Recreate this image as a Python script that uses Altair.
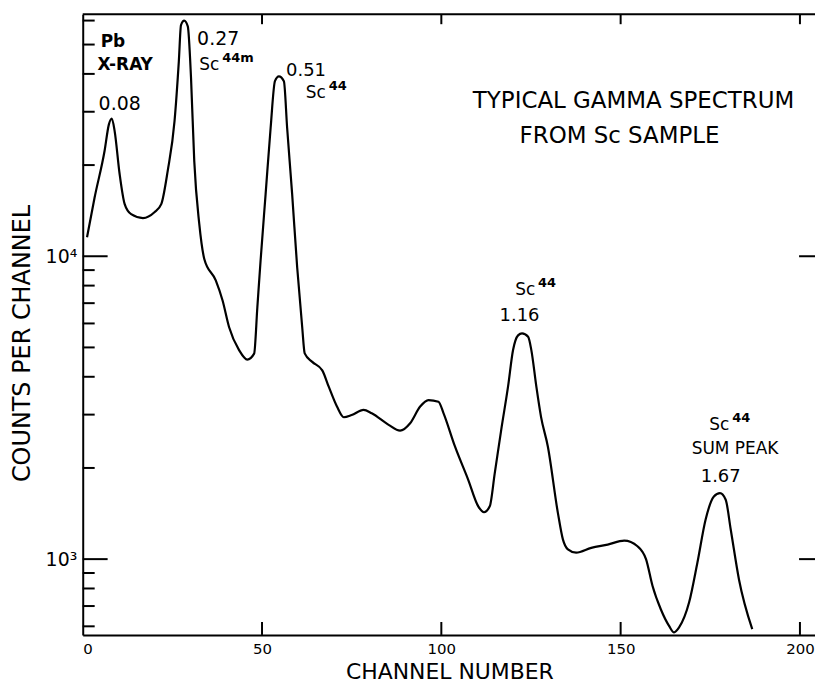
import altair as alt
import pandas as pd

# ---- spectrum trace (channel number, counts per channel) ----
channel = [1.2, 3.3, 6.1, 7.3, 8.1, 8.9, 10.3, 11.7, 13.5, 16.8, 20.0, 21.9, 23.7, 25.6,
           26.8, 27.4, 28.3, 29.3, 30.2, 31.1, 32.5, 33.9, 37.1, 39.0, 40.8, 43.6, 45.9,
           47.8, 48.7, 49.6, 51.0, 52.4, 53.6, 54.7, 56.1, 57.0, 58.4, 59.8, 61.2, 61.9,
           64.0, 66.8, 68.6, 70.9, 72.8, 75.0, 78.3, 80.6, 85.3, 88.5, 91.3, 94.1, 96.4,
           99.2, 100.6, 103.8, 107.5, 110.3, 111.9, 113.5, 114.9, 116.7, 118.6, 120.0,
           121.4, 122.5, 124.2, 125.1, 126.5, 127.8, 129.7, 132.5, 133.9, 135.3, 137.6,
           141.8, 146.4, 151.0, 154.7, 157.1, 158.9, 161.2, 163.5, 164.9, 166.3, 169.1,
           171.4, 173.7, 176.0, 177.7, 179.3, 180.7, 183.0, 186.7]
counts = [11550, 15600, 22300, 27260, 28500, 25900, 18650, 14860, 13770, 13370, 13970, 14860,
          19140, 27930, 44000, 58000, 60000, 57400, 38800, 20650, 12780, 9800, 8320, 7140,
          5840, 4900, 4560, 4770, 6800, 9680, 16030, 26560, 37850, 39270, 37850, 26560,
          16030, 9200, 5840, 4780, 4480, 4200, 3710, 3190, 2940, 2990, 3110, 3030, 2775,
          2655, 2810, 3190, 3350, 3310, 3035, 2355, 1828, 1494, 1428, 1494, 1923, 2673,
          3710, 4900, 5480, 5560, 5420, 4900, 3710, 2950, 2355, 1422, 1162, 1077, 1050,
          1089, 1117, 1151, 1103, 998, 815, 683, 602, 573, 595, 720, 973, 1352, 1610, 1652,
          1571, 1253, 857, 587]

# ---- axis ticks ----
x_ticks = [0, 50, 100, 150, 200]
x_inner_ticks = [50, 100, 150, 200]
y_major = [1000, 10000]
y_minor = [600, 700, 800, 900, 2000, 3000, 4000, 5000, 6000, 7000, 8000, 9000,
           20000, 30000, 40000, 50000, 60000]

# ---- annotations ----
# energies (left-aligned next to peaks)
ann_left_text = ["0.27", "0.51"]
ann_left_x = [31.9, 56.7]
ann_left_y = [52100, 40830]
ann_left_size = [19, 18]

# Pb X-ray label (bold)
ann_bold_text = ["Pb", "X-RAY"]
ann_bold_x = [5.0, 4.1]
ann_bold_y = [50800, 42750]

# "Sc" isotope labels with superscript mass numbers
sc_base = ["Sc", "Sc", "Sc", "Sc"]
sc_sup = ["44m", "44", "44", "44"]
sc_x = [32.5, 62.2, 120.6, 174.7]
sc_y = [42750, 34670, 7710, 2773]

# centred texts
ann_center_text = ["0.08", "TYPICAL  GAMMA  SPECTRUM", "FROM  Sc  SAMPLE", "1.16",
                   "SUM PEAK", "1.67"]
ann_center_x = [10.3, 153.6, 149.7, 121.8, 181.9, 177.9]
ann_center_y = [31900, 32500, 24950, 6340, 2311, 1862]
ann_center_size = [19, 23, 23, 18, 17, 18]

W, H = 735, 623
FONT = "DejaVu Sans"
XDOM = [0, 204.2]
YDOM = [562, 62960]

xs = alt.Scale(domain=XDOM, nice=False, zero=False)
ys = alt.Scale(type="log", domain=YDOM, nice=False)

xaxis = alt.Axis(values=x_ticks, ticks=False, tickSize=0, grid=False,
                 domainColor="black", domainWidth=2, labelFont=FONT, labelFontSize=15,
                 labelColor="black", labelPadding=7,
                 title="CHANNEL  NUMBER", titleFont=FONT, titleFontSize=22,
                 titleFontWeight="normal", titleColor="black",
                 titleX=368, titleY=37, titleBaseline="middle", titleAlign="center")
yaxis = alt.Axis(values=y_major, ticks=False, tickSize=0, grid=False,
                 domainColor="black", domainWidth=2, labelFont=FONT, labelFontSize=19,
                 labelColor="black", labelPadding=6,
                 labelExpr="datum.value >= 5000 ? '10\u2074' : '10\u00b3'",
                 title="COUNTS PER CHANNEL", titleFont=FONT, titleFontSize=24,
                 titleFontWeight="normal", titleColor="black", titleAngle=270,
                 titleX=-60, titleY=330, titleBaseline="middle", titleAlign="center")


def X(field):
    return alt.X(field, scale=xs, axis=xaxis)


def Y(field):
    return alt.Y(field, scale=ys, axis=yaxis)


df = pd.DataFrame({"ch": channel, "cnt": counts})

line = alt.Chart(df).mark_line(color="black", strokeWidth=2.2, interpolate="monotone").encode(
    x=X("ch:Q"), y=Y("cnt:Q"))

ymin_df = pd.DataFrame({"v": y_minor})
ymaj_df = pd.DataFrame({"v": y_major})
xt_df = pd.DataFrame({"v": x_inner_ticks})

left_minor = alt.Chart(ymin_df).mark_rule(color="black", strokeWidth=2).encode(
    y=Y("v:Q"), x=alt.value(0), x2=alt.value(12))
left_major = alt.Chart(ymaj_df).mark_rule(color="black", strokeWidth=2).encode(
    y=Y("v:Q"), x=alt.value(0), x2=alt.value(25))
right_major = alt.Chart(ymaj_df).mark_rule(color="black", strokeWidth=2).encode(
    y=Y("v:Q"), x=alt.value(W - 16), x2=alt.value(W))
bottom_ticks = alt.Chart(xt_df).mark_rule(color="black", strokeWidth=2).encode(
    x=X("v:Q"), y=alt.value(H), y2=alt.value(H - 13))
top_ticks = alt.Chart(xt_df).mark_rule(color="black", strokeWidth=2).encode(
    x=X("v:Q"), y=alt.value(0), y2=alt.value(10))
top_border = alt.Chart(pd.DataFrame({"a": [0]})).mark_rule(color="black", strokeWidth=2).encode(
    x=alt.value(0), x2=alt.value(W), y=alt.value(0))

left_df = pd.DataFrame({"t": ann_left_text, "x": ann_left_x, "y": ann_left_y, "s": ann_left_size})
bold_df = pd.DataFrame({"t": ann_bold_text, "x": ann_bold_x, "y": ann_bold_y})
center_df = pd.DataFrame({"t": ann_center_text, "x": ann_center_x, "y": ann_center_y,
                          "s": ann_center_size})
sc_df = pd.DataFrame({"b": sc_base, "p": sc_sup, "x": sc_x, "y": sc_y})

txt_left = alt.Chart(left_df).mark_text(align="left", baseline="middle", font=FONT,
                                        color="black").encode(
    x=X("x:Q"), y=Y("y:Q"), text="t:N", size=alt.Size("s:Q", scale=None, legend=None))
txt_bold = alt.Chart(bold_df).mark_text(align="left", baseline="middle", font=FONT,
                                        fontWeight="bold", fontSize=17, color="black").encode(
    x=X("x:Q"), y=Y("y:Q"), text="t:N")
txt_center = alt.Chart(center_df).mark_text(align="center", baseline="middle", font=FONT,
                                            color="black").encode(
    x=X("x:Q"), y=Y("y:Q"), text="t:N", size=alt.Size("s:Q", scale=None, legend=None))
txt_sc = alt.Chart(sc_df).mark_text(align="left", baseline="middle", font=FONT,
                                    fontSize=17, color="black").encode(
    x=X("x:Q"), y=Y("y:Q"), text="b:N")
txt_sup = alt.Chart(sc_df).mark_text(align="left", baseline="middle", font=FONT,
                                     fontSize=13, fontWeight="bold", color="black",
                                     dx=23, dy=-7).encode(
    x=X("x:Q"), y=Y("y:Q"), text="p:N")

chart = alt.layer(
    line, left_minor, left_major, right_major, bottom_ticks, top_ticks, top_border,
    txt_left, txt_bold, txt_center, txt_sc, txt_sup
).properties(
    width=W, height=H,
    autosize=alt.AutoSizeParams(type="none"),
    padding={"left": 75, "top": 5, "right": 0, "bottom": 48},
    background="white",
).configure_view(stroke=None)

chart.save("out.html", embed_options={"renderer": "svg", "actions": False})
